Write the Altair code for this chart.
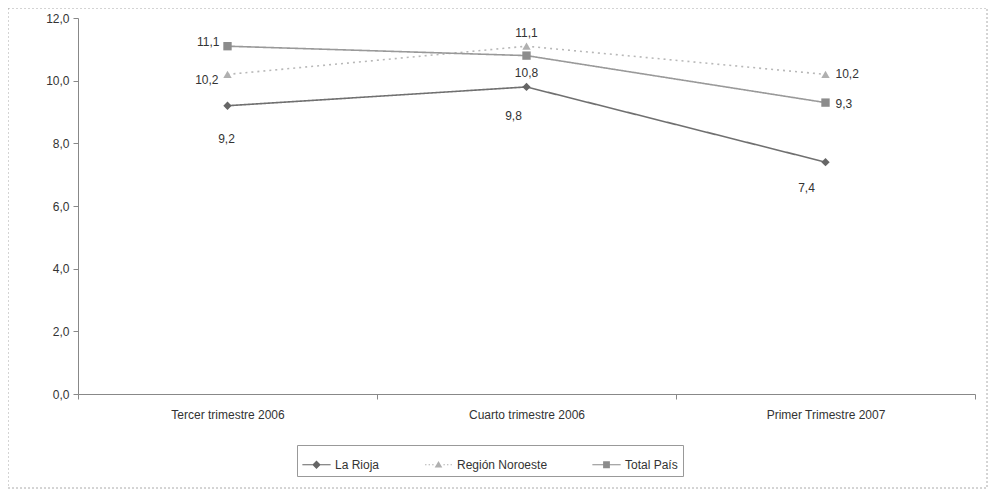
import altair as alt
import pandas as pd

categories = ["Tercer trimestre 2006", "Cuarto trimestre 2006", "Primer Trimestre 2007"]
series = ["La Rioja", "Región Noroeste", "Total País"]
la_rioja = [9.2, 9.8, 7.4]
noroeste = [10.2, 11.1, 10.2]
total_pais = [11.1, 10.8, 9.3]

rows = []
for s, vals in zip(series, [la_rioja, noroeste, total_pais]):
    for c, v in zip(categories, vals):
        rows.append({"cat": c, "serie": s, "valor": v})
df = pd.DataFrame(rows)

W, H = 897, 376
FONT = "Liberation Sans"

x_enc = alt.X("cat:N", sort=categories,
              scale=alt.Scale(domain=categories, paddingInner=0, paddingOuter=0),
              axis=alt.Axis(title=None, labelAngle=0, labelFontSize=12, labelColor="#333",
                            labelFont=FONT, labelPadding=10, tickBand="extent",
                            domainColor="#888", tickColor="#888", tickSize=5))
y_enc = alt.Y("valor:Q", scale=alt.Scale(domain=[0, 12]),
              axis=alt.Axis(title=None, values=[0, 2, 4, 6, 8, 10, 12], grid=False,
                            labelExpr="replace(format(datum.value, '.1f'), '.', ',')",
                            labelFontSize=12, labelColor="#333", labelFont=FONT,
                            domainColor="#888", tickColor="#888", tickSize=5, labelPadding=4))

line_styles = {
    "La Rioja": ("#707070", [1, 0]),
    "Región Noroeste": ("#b8b8b8", [2, 4]),
    "Total País": ("#999999", [1, 0]),
}
marker_colors = ["#666666", "#b0b0b0", "#8c8c8c"]

base = alt.Chart(df).encode(x=x_enc, y=y_enc)

line_layers = []
for s in series:
    col, dash = line_styles[s]
    line_layers.append(
        base.transform_filter(alt.datum.serie == s).mark_line(
            strokeWidth=1.6, color=col, strokeDash=dash)
    )

points = base.mark_point(filled=True, size=70, opacity=1).encode(
    color=alt.Color("serie:N", scale=alt.Scale(domain=series, range=marker_colors), legend=None),
    shape=alt.Shape("serie:N", scale=alt.Scale(domain=series, range=["diamond", "triangle-up", "square"]),
                    legend=None),
)

# legend-only layer: symbols = line segment + marker (Excel style)
legend_paths = [
    "M-1,-0.04H1V0.04H-1Z M0,-0.3L0.3,0L0,0.3L-0.3,0Z",
    "M-0.95,-0.04H-0.85V0.04H-0.95Z M-0.7,-0.04H-0.6V0.04H-0.7Z M-0.45,-0.04H-0.35V0.04H-0.45Z M0,-0.27L0.27,0.2L-0.27,0.2Z M0.35,-0.04H0.45V0.04H0.35Z M0.6,-0.04H0.7V0.04H0.6Z M0.85,-0.04H0.95V0.04H0.85Z",
    "M-1,-0.04H1V0.04H-1Z M-0.24,-0.24H0.24V0.24H-0.24Z",
]
legend = alt.Legend(title=None, orient="none", legendX=219, legendY=427,
                    direction="horizontal", columns=3, strokeColor="#999",
                    padding=5, labelFontSize=12, labelFont=FONT, labelColor="#333",
                    symbolSize=800, columnPadding=44, labelLimit=200, labelOffset=4,
                    symbolStrokeWidth=0)
legend_layer = alt.Chart(df).transform_filter("false").mark_point(filled=True, opacity=1).encode(
    x=alt.X("cat:N", sort=categories), y="valor:Q",
    color=alt.Color("serie:N", scale=alt.Scale(domain=series, range=marker_colors), legend=legend),
    shape=alt.Shape("serie:N", scale=alt.Scale(domain=series, range=legend_paths), legend=legend),
)

def lab(serie, cat, dx, dy, align="center"):
    return alt.Chart(df).transform_filter(
        (alt.datum.serie == serie) & (alt.datum.cat == cat)
    ).transform_calculate(
        txt="replace(format(datum.valor, '.1f'), '.', ',')"
    ).mark_text(dx=dx, dy=dy, align=align, fontSize=12, font=FONT, color="#333").encode(
        x=alt.X("cat:N", sort=categories), y="valor:Q", text="txt:N")

labels = [
    lab("Total País", categories[0], -8, -4, "right"),
    lab("Total País", categories[1], 0, 17),
    lab("Total País", categories[2], 10, 1, "left"),
    lab("Región Noroeste", categories[0], -9, 6, "right"),
    lab("Región Noroeste", categories[1], 0, -13),
    lab("Región Noroeste", categories[2], 10, 0, "left"),
    lab("La Rioja", categories[0], -1, 33),
    lab("La Rioja", categories[1], -13, 29),
    lab("La Rioja", categories[2], -19, 26),
]

frame = alt.Chart(pd.DataFrame({"a": [0]})).mark_rect(
    fill=None, stroke="#aaa", strokeDash=[2, 2], strokeWidth=1, clip=False
).encode(x=alt.value(-70), x2=alt.value(W + 12), y=alt.value(-10), y2=alt.value(H + 94))

chart = alt.layer(frame, *line_layers, points, legend_layer, *labels).resolve_scale(
    color="independent", shape="independent"
).properties(
    width=W, height=H,
    autosize=alt.AutoSizeParams(type="none"),
    padding={"left": 70, "top": 10, "right": 14, "bottom": 96},
    background="white",
).configure_view(stroke=None)

chart.save("out.html", embed_options={"renderer": "svg", "actions": False})
